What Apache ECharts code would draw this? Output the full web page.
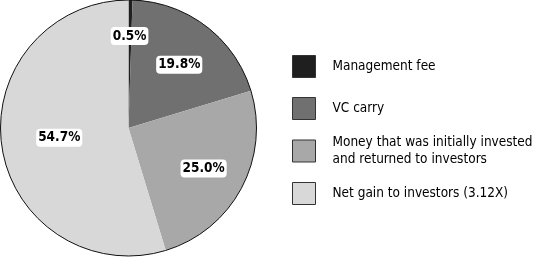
<!DOCTYPE html>
<html>
<head>
<meta charset="utf-8">
<script src="https://cdn.jsdelivr.net/npm/echarts@6/dist/echarts.min.js"></script>
<style>html,body{margin:0;padding:0;background:#fff;}#c{width:535px;height:258px;}</style>
</head>
<body>
<div id="c"></div>
<script>
// Data
const categories = ['Management fee', 'VC carry', 'Money that was initially invested\nand returned to investors', 'Net gain to investors (3.12X)'];
const values = [0.5, 19.8, 25.0, 54.7];
const valueLabels = ['0.5%', '19.8%', '25.0%', '54.7%'];

// Styles
const colors = ['#1f1f1f', '#707070', '#a8a8a8', '#d8d8d8'];
const labelOffsets = [[0, -25], [10, -10], [16, 9], [-3, 0]];
const legendTops = [55, 97, 125.5, 182];
const legendPadTop = [0, 0, 17, 0];
const FONT = '"DejaVu Sans Condensed", "Liberation Sans Narrow", sans-serif';

const center = [128.5, 128];
const radius = 128;

const chart = echarts.init(document.getElementById('c'), null, {renderer: 'canvas'});

const pieData = categories.map((name, i) => ({
  name: name,
  value: values[i],
  itemStyle: {color: colors[i]},
  label: {offset: labelOffsets[i], formatter: valueLabels[i]}
}));

const legends = categories.map((name, i) => ({
  data: [name],
  orient: 'vertical',
  left: 292,
  top: legendTops[i],
  padding: 0,
  icon: 'rect',
  itemWidth: 23,
  itemHeight: 22,
  selectedMode: false,
  itemStyle: {borderColor: '#333', borderWidth: 1},
  textStyle: {
    fontFamily: FONT,
    fontSize: 13.5,
    lineHeight: 17,
    color: '#000',
    padding: [legendPadTop[i], 0, 0, 12]
  }
}));

chart.setOption({
  animation: false,
  legend: legends,
  series: [
    {
      type: 'pie',
      center: center,
      radius: [0, radius],
      startAngle: 90,
      clockwise: true,
      avoidLabelOverlap: false,
      itemStyle: {borderWidth: 0},
      label: {
        show: true,
        position: 'inside',
        fontFamily: FONT,
        fontWeight: 'bold',
        fontSize: 13.5,
        color: '#000',
        backgroundColor: '#fff',
        borderRadius: 4,
        padding: [2, 2, 2, 2]
      },
      labelLine: {show: false},
      emphasis: {disabled: true},
      data: pieData
    },
    {
      type: 'pie',
      center: center,
      radius: [0, radius],
      silent: true,
      label: {show: false},
      labelLine: {show: false},
      emphasis: {disabled: true},
      itemStyle: {color: 'rgba(0,0,0,0)', borderColor: '#111', borderWidth: 1},
      data: [{name: '_outline', value: 1}]
    }
  ]
});
</script>
</body>
</html>
